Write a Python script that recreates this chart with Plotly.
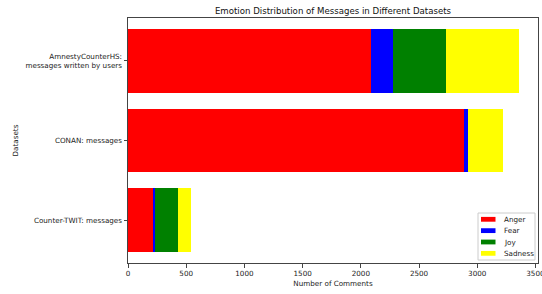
import plotly.graph_objects as go

datasets = ["Counter-TWIT: messages", "CONAN: messages", "AmnestyCounterHS:<br>messages written by users"]
emotions = ["Anger", "Fear", "Joy", "Sadness"]
colors = ["#ff0000", "#0000ff", "#008000", "#ffff00"]
anger = [223, 2889, 2088]
fear = [12, 35, 191]
joy = [192, 0, 456]
sadness = [114, 301, 624]
x_ticks = [0, 500, 1000, 1500, 2000, 2500, 3000, 3500]

W, H = 542, 294
L, R, T, B = 128, 4, 18, 31
PW, PH = W - L - R, H - T - B

def px(x):
    return (x - L) / PW

def py(y):
    return (H - B - y) / PH

values = [anger, fear, joy, sadness]
fig = go.Figure()
for name, col, vals in zip(emotions, colors, values):
    fig.add_trace(go.Bar(y=datasets, x=vals, name=name, orientation="h", showlegend=False,
                         marker=dict(color=col, line=dict(width=0)), width=0.8))

fs = 7.2
font = dict(family="DejaVu Sans", size=fs, color="#222")
fig.update_layout(
    barmode="stack",
    width=W, height=H,
    margin=dict(l=L, r=R, t=T, b=B, autoexpand=False),
    plot_bgcolor="white", paper_bgcolor="white",
    font=font,
    title=dict(text="Emotion Distribution of Messages in Different Datasets",
               x=0.5, xref="paper", xanchor="center", y=1 - 10.5 / H, yanchor="middle",
               font=dict(family="DejaVu Sans", size=8.6, color="#111")),
    showlegend=False,
    bargap=0.2,
)
fig.update_xaxes(range=[0, 3522], tickvals=x_ticks, ticktext=[str(v) for v in x_ticks],
                 showgrid=False, zeroline=False, showline=True, linecolor="#444", linewidth=1,
                 mirror=True, ticks="outside", ticklen=3.5, tickcolor="#444", automargin=False,
                 ticklabeloverflow="allow",
                 title=dict(text="Number of Comments", standoff=3, font=dict(size=fs)))
fig.update_yaxes(range=[-0.54, 2.54], categoryorder="array", categoryarray=datasets,
                 showgrid=False, zeroline=False, showline=True, linecolor="#444", linewidth=1,
                 mirror=True, ticks="outside", ticklen=3.5, tickcolor="#444", automargin=False,
                 title=dict(text="Datasets", standoff=5, font=dict(size=fs)))

# custom legend (matplotlib-like compact box)
fig.add_shape(type="rect", xref="paper", yref="paper",
              x0=px(478), x1=px(535), y0=py(260), y1=py(213),
              line=dict(color="#cccccc", width=1), fillcolor="rgba(255,255,255,0.85)", layer="above")
for i, (name, col) in enumerate(zip(emotions, colors)):
    cy = 219.3 + i * 11.35
    fig.add_shape(type="rect", xref="paper", yref="paper",
                  x0=px(481), x1=px(495.5), y0=py(cy + 2.4), y1=py(cy - 2.4),
                  line=dict(width=0), fillcolor=col, layer="above")
    fig.add_annotation(xref="paper", yref="paper", x=px(501.5), y=py(cy),
                       xanchor="left", yanchor="middle", text=name, showarrow=False,
                       font=dict(family="DejaVu Sans", size=fs, color="#222"))
fig.write_html("out.html", config={"displayModeBar": False},
               post_script="document.body.style.margin='0';document.body.style.padding='0';")
